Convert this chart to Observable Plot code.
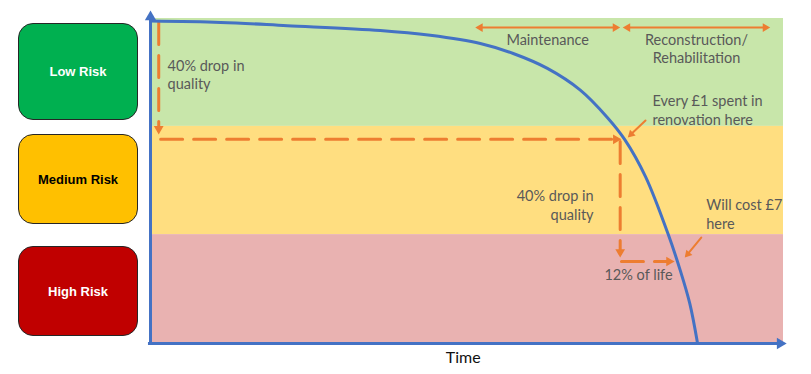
<!DOCTYPE html>
<html>
<head>
<meta charset="utf-8">
<script src="https://cdn.jsdelivr.net/npm/d3@7"></script>
<script src="https://cdn.jsdelivr.net/npm/@observablehq/plot@0.6"></script>
<style>
  body { margin: 0; background: #fff; }
  #wrap { position: relative; width: 811px; height: 374px; overflow: hidden; }
  #wrap svg { position: absolute; left: 0; top: 0; }
  .risk { position: absolute; left: 18px; width: 120px; box-sizing: border-box; border: 1.5px solid #262626; border-radius: 15px;
          display: flex; align-items: center; justify-content: center; font: bold 13px "Liberation Sans", Arial, sans-serif; }
</style>
</head>
<body>
<div id="wrap"></div>
<script>
// ---- data ----
const riskLevels = ["Low Risk", "Medium Risk", "High Risk"];
const bandLow = [66.7, 33.3, 0];
const bandHigh = [100, 66.7, 33.3];

const curveTime    = [0, 11.1, 21.6, 36.3, 44.2, 52.1, 57.3, 62.7, 67.9, 72.2, 74.9, 78.2, 81.8, 83.7, 85.2, 86.4];
const curveQuality = [99.2, 98.8, 97.8, 96.3, 94.8, 92.3, 89.2, 84.6, 77.9, 69.4, 62.7, 51.2, 33.3, 22.2, 12.0, 0];

// dashed guides (down, right, down, right)
const guideX1 = [1.3, 1.6, 74.2, 74.4];
const guideY1 = [98.8, 62.7, 62.0, 25.0];
const guideX2 = [1.3, 74.4, 74.2, 82.8];
const guideY2 = [64.2, 62.7, 26.2, 25.0];

// leader arrows
const leaderX1 = [78.2, 87.0];
const leaderY1 = [68.5, 32.4];
const leaderX2 = [75.4, 84.4];
const leaderY2 = [63.3, 26.2];

// life phases
const phaseNames = ["Maintenance", "Reconstruction/\nRehabilitation"];
const phaseStart = [51.3, 74.6];
const phaseEnd = [74.2, 97.9];
const phaseLevel = 97.2;
const phaseLabelY = [93.8, 90.9];

// notes
const noteText = ["40% drop in\nquality", "Every £1 spent in\nrenovation here", "40% drop in\nquality", "Will cost £7\nhere", "12% of life"];
const noteX = [2.7, 79.3, 70.0, 87.8, 77.1];
const noteY = [82.9, 71.9, 42.6, 39.7, 20.7];

const axisLabel = "Time";

// ---- build tables ----
const bandColors = ["#c8e6aa", "#ffde80", "#e9b2b1"];
const boxColors = ["#00b050", "#ffc000", "#c00000"];
const boxText = ["#fff", "#000", "#fff"];
const bands = riskLevels.map((r, i) => ({level: r, lo: bandLow[i], hi: bandHigh[i], color: bandColors[i]}));
const curve = curveTime.map((t, i) => ({t, q: curveQuality[i]}));
const guides = guideX1.map((x, i) => ({x1: x, y1: guideY1[i], x2: guideX2[i], y2: guideY2[i]}));
const leaders = leaderX1.map((x, i) => ({x1: x, y1: leaderY1[i], x2: leaderX2[i], y2: leaderY2[i]}));
const phases = phaseNames.map((n, i) => ({name: n, a: phaseStart[i], b: phaseEnd[i], y: phaseLevel, mid: (phaseStart[i] + phaseEnd[i]) / 2, ly: phaseLabelY[i]}));
const notes = noteText.map((s, i) => ({text: s, x: noteX[i], y: noteY[i]}));

const blue = "#4472c4", orange = "#ed7d31", grey = "#595959";

function head(data, x, y, rotate, r, fill) {
  const h = 2 * Math.sqrt(Math.PI * r * r / (3 * Math.sqrt(3)));
  const rad = rotate * Math.PI / 180;
  return Plot.dot(data, {x, y, r, symbol: "triangle", fill, stroke: "none", rotate,
    dx: -Math.sin(rad) * h, dy: Math.cos(rad) * h});
}

const yAxis = [{x: 0, y1: -0.3, y2: 101.5, tip: 102.5}];
const xAxis = [{y: -0.3, x1: -0.4, x2: 99.8, tip: 100.5}];

const font = "Lato, 'Open Sans', sans-serif";
const fs = 14.5;

const chart = Plot.plot({
  width: 811, height: 374,
  marginLeft: 150, marginRight: 28, marginTop: 18, marginBottom: 32,
  x: {domain: [0, 100], axis: null},
  y: {domain: [0, 100], axis: null},
  color: {type: "identity"},
  style: {background: "transparent", overflow: "visible", fontFamily: font},
  marks: [
    Plot.rect(bands, {x1: 0, x2: 100, y1: "lo", y2: "hi", fill: "color"}),
    // axes
    Plot.link(yAxis, {x1: "x", x2: "x", y1: "y1", y2: "y2", stroke: blue, strokeWidth: 3}),
    head(yAxis, "x", "tip", 0, 4.2, blue),
    Plot.link(xAxis, {x1: "x1", x2: "x2", y1: "y", y2: "y", stroke: blue, strokeWidth: 3}),
    head(xAxis, "tip", "y", 90, 4.2, blue),
    // dashed guides
    Plot.arrow(guides, {x1: "x1", y1: "y1", x2: "x2", y2: "y2", stroke: orange, strokeWidth: 3,
      strokeDasharray: "22,11", headLength: 0, insetEnd: 4}),
    head(guides.filter((d, i) => i % 2 === 0), "x2", "y2", 180, 3.6, orange),
    head(guides.filter((d, i) => i % 2 === 1), "x2", "y2", 90, 3.6, orange),
    // phase arrows
    Plot.arrow(phases, {x1: "a", x2: "b", y1: "y", y2: "y", stroke: orange, strokeWidth: 2,
      headLength: 0, insetStart: 4, insetEnd: 4}),
    head(phases, "a", "y", 270, 3.2, orange),
    head(phases, "b", "y", 90, 3.2, orange),
    Plot.text(phases, {x: "mid", y: "ly", text: "name", fill: grey, fontSize: fs, lineHeight: 1.3, textAnchor: "middle"}),
    // the deterioration curve
    Plot.line(curve, {x: "t", y: "q", curve: "catmull-rom", stroke: blue, strokeWidth: 3}),
    // leaders
    Plot.arrow(leaders, {x1: "x1", y1: "y1", x2: "x2", y2: "y2", stroke: orange, strokeWidth: 2,
      headLength: 0, insetEnd: 3}),
    head(leaders.slice(0, 1), "x2", "y2", 226, 3, orange),
    head(leaders.slice(1, 2), "x2", "y2", 221, 3, orange),
    // notes
    Plot.text(notes.filter((d, i) => i === 0 || i === 1 || i === 3), {x: "x", y: "y", text: "text", fill: grey,
      fontSize: fs, lineHeight: 1.3, textAnchor: "start"}),
    Plot.text(notes.filter((d, i) => i === 2), {x: "x", y: "y", text: "text", fill: grey,
      fontSize: fs, lineHeight: 1.3, textAnchor: "end"}),
    Plot.text(notes.filter((d, i) => i === 4), {x: "x", y: "y", text: "text", fill: grey,
      fontSize: fs, textAnchor: "middle"}),
    Plot.text([axisLabel], {x: 49.4, y: -4.6, text: d => d, fill: "#111", fontSize: 16, textAnchor: "middle"})
  ]
});

const wrap = document.getElementById("wrap");
const boxTop = [23, 134, 246];
const boxHeight = [97, 90, 90];
riskLevels.forEach((r, i) => {
  const div = document.createElement("div");
  div.className = "risk";
  div.textContent = r;
  div.style.top = boxTop[i] + "px";
  div.style.height = boxHeight[i] + "px";
  div.style.background = boxColors[i];
  div.style.color = boxText[i];
  wrap.appendChild(div);
});
wrap.appendChild(chart);
</script>
</body>
</html>
